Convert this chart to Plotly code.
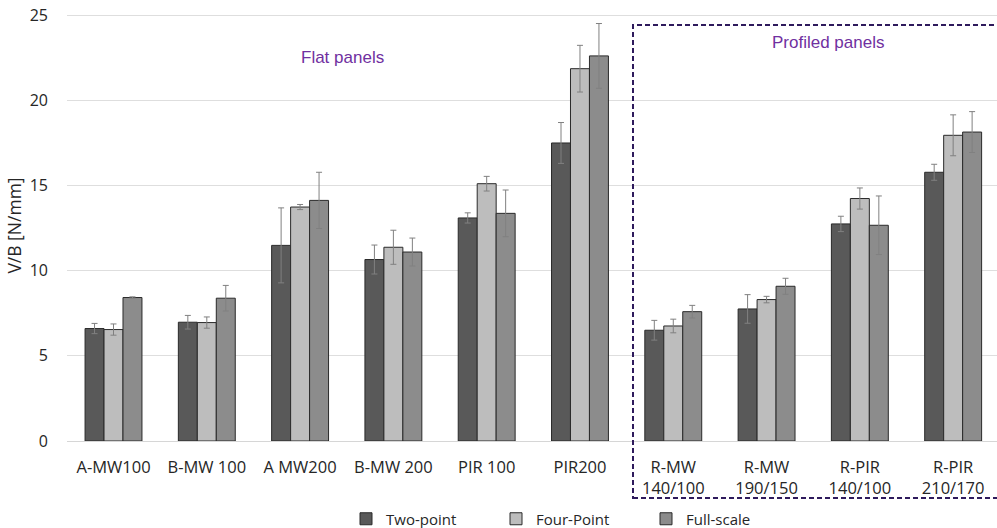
import plotly.graph_objects as go

categories = ["A-MW100", "B-MW 100", "A MW200", "B-MW 200", "PIR 100", "PIR200",
              "R-MW<br>140/100", "R-MW<br>190/150", "R-PIR<br>140/100", "R-PIR<br>210/170"]

two_point = [6.6, 6.97, 11.48, 10.65, 13.09, 17.49, 6.5, 7.75, 12.74, 15.77]
two_point_err = [0.3, 0.4, 2.2, 0.85, 0.3, 1.2, 0.58, 0.84, 0.45, 0.47]

four_point = [6.54, 6.95, 13.73, 11.37, 15.1, 21.85, 6.75, 8.3, 14.23, 17.94]
four_point_err = [0.33, 0.33, 0.15, 1.0, 0.43, 1.37, 0.4, 0.19, 0.62, 1.2]

full_scale = [8.42, 8.38, 14.12, 11.09, 13.36, 22.6, 7.59, 9.08, 12.66, 18.13]
full_scale_err = [0.04, 0.75, 1.65, 0.82, 1.37, 1.9, 0.37, 0.47, 1.72, 1.2]

series_names = ["Two-point", "Four-Point", "Full-scale"]
series_colors = ["#595959", "#bdbdbd", "#8c8c8c"]

y_ticks = [0, 5, 10, 15, 20, 25]

# plot area in page px: x 67..997, y 10..441 (body margin removed below)
W, H = 997, 528
PL, PT, PW, PH = 67, 10, 930, 431
YMAX = 25 * PH / 426.0


def px_x(x):
    return (x - PL) / PW


def px_y(y):
    return (PT + PH - y) / PH


fig = go.Figure()
for name, vals, errs, col in zip(series_names,
                                 [two_point, four_point, full_scale],
                                 [two_point_err, four_point_err, full_scale_err],
                                 series_colors):
    fig.add_trace(go.Bar(
        name=name, x=categories, y=vals,
        marker=dict(color=col, line=dict(color="#2a2a2a", width=1)),
        error_y=dict(type="data", array=errs, visible=True,
                     color="#808080", thickness=1, width=3),
    ))

fig.update_layout(
    width=W, height=H,
    margin=dict(l=PL, r=W - PL - PW, t=PT, b=H - PT - PH, autoexpand=False),
    paper_bgcolor="white", plot_bgcolor="white",
    barmode="group", bargap=0.39, bargroupgap=0,
    font=dict(family="Open Sans", color="#262626"),
    xaxis=dict(range=[-0.4985, 9.47], showgrid=False, showline=False,
               ticks="", tickfont=dict(size=16.5, color="#262626"),
               ticklabelstandoff=14, automargin=False),
    yaxis=dict(range=[0, YMAX], tickvals=y_ticks, showgrid=True,
               gridcolor="#dedede", gridwidth=1, zeroline=True,
               zerolinecolor="#d6d6d6", zerolinewidth=1, showline=False,
               ticks="", tickfont=dict(size=16, color="#262626"),
               ticklabelstandoff=18, automargin=False, ticklabeloverflow="allow",
               title=dict(text="V/B [N/mm]", font=dict(size=17.5, color="#262626"),
                          standoff=3)),
    legend=dict(orientation="h", x=px_x(346), xanchor="left", y=px_y(519),
                yanchor="middle", font=dict(size=15, color="#262626"),
                entrywidth=105, entrywidthmode="pixels", tracegroupgap=0),
    showlegend=True,
)

fig.add_annotation(text="Flat panels", xref="paper", yref="paper",
                   x=px_x(342.5), y=px_y(57), xanchor="center", yanchor="middle",
                   showarrow=False,
                   font=dict(family="Liberation Sans", size=17, color="#7030a0"))
fig.add_annotation(text="Profiled panels", xref="paper", yref="paper",
                   x=px_x(828), y=px_y(42), xanchor="center", yanchor="middle",
                   showarrow=False,
                   font=dict(family="Liberation Sans", size=17, color="#7030a0"))

fig.add_shape(type="rect", xref="paper", yref="paper",
              x0=px_x(633), x1=px_x(1005),
              y0=px_y(498), y1=px_y(25),
              line=dict(color="#2e1a5c", width=2, dash="5px,3px"),
              fillcolor="rgba(0,0,0,0)", layer="above")

fig.write_html("out.html",
               config={"displayModeBar": False},
               post_script="document.body.style.margin='0';")
